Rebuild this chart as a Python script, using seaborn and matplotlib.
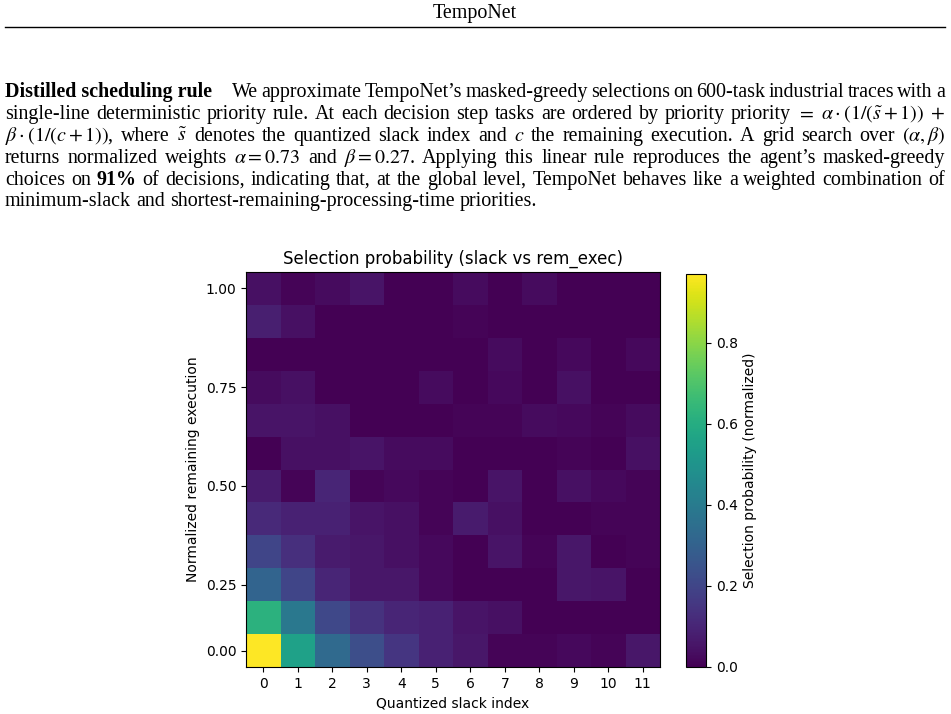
import pandas as pd
import seaborn as sns
import matplotlib.pyplot as plt
from matplotlib.lines import Line2D

plt.rcParams['mathtext.fontset'] = 'stix'

# heatmap data
slack_idx = list(range(12))
rem_tick_rows = [0, 2, 5, 8, 11]
rem_tick_labels = ["0.00", "0.25", "0.50", "0.75", "1.00"]

# one list per remaining-execution bin, bottom (0.00) to top (1.00)
rem_00 = [0.97, 0.55, 0.33, 0.23, 0.15, 0.09, 0.06, 0.01, 0.01, 0.02, 0.01, 0.06]
rem_01 = [0.62, 0.39, 0.21, 0.14, 0.10, 0.09, 0.05, 0.04, 0.00, 0.00, 0.00, 0.00]
rem_02 = [0.31, 0.20, 0.10, 0.06, 0.06, 0.02, 0.00, 0.00, 0.00, 0.06, 0.05, 0.00]
rem_03 = [0.20, 0.13, 0.07, 0.06, 0.04, 0.02, 0.00, 0.05, 0.01, 0.06, 0.00, 0.01]
rem_04 = [0.11, 0.09, 0.09, 0.05, 0.04, 0.01, 0.07, 0.04, 0.00, 0.00, 0.01, 0.01]
rem_05 = [0.07, 0.01, 0.10, 0.01, 0.02, 0.01, 0.00, 0.05, 0.00, 0.04, 0.02, 0.01]
rem_06 = [0.00, 0.04, 0.04, 0.05, 0.03, 0.03, 0.00, 0.00, 0.00, 0.01, 0.00, 0.04]
rem_07 = [0.05, 0.05, 0.04, 0.00, 0.00, 0.00, 0.01, 0.01, 0.03, 0.02, 0.01, 0.03]
rem_08 = [0.03, 0.04, 0.00, 0.00, 0.00, 0.03, 0.00, 0.02, 0.00, 0.04, 0.00, 0.00]
rem_09 = [0.00, 0.00, 0.00, 0.00, 0.00, 0.00, 0.00, 0.03, 0.00, 0.02, 0.00, 0.02]
rem_10 = [0.08, 0.04, 0.00, 0.00, 0.00, 0.00, 0.01, 0.00, 0.00, 0.00, 0.00, 0.00]
rem_11 = [0.04, 0.01, 0.03, 0.05, 0.00, 0.00, 0.03, 0.00, 0.03, 0.00, 0.00, 0.00]

rows = [rem_00, rem_01, rem_02, rem_03, rem_04, rem_05,
        rem_06, rem_07, rem_08, rem_09, rem_10, rem_11]
df = pd.DataFrame(rows[::-1], columns=slack_idx)  # top row first for heatmap

# page text
SERIF = 'Liberation Serif'
FS = 14.4
header = "TempoNet"
para = [
    [("Distilled scheduling rule", True), ("We", False), ("approximate", False), ("TempoNet\u2019s", False),
     ("masked-greedy", False), ("selections", False), ("on", False), ("600-task", False), ("industrial", False),
     ("traces", False), ("with", False), ("a", False)],
    [("single-line", False), ("deterministic", False), ("priority", False), ("rule.", False), ("At", False),
     ("each", False), ("decision", False), ("step", False), ("tasks", False), ("are", False), ("ordered", False),
     ("by", False), ("priority", False), ("priority", False), ("$=$", False),
     (r"$\alpha\cdot\left(1/(\tilde{s}+1)\right)$", False), ("$+$", False)],
    [(r"$\beta\cdot\left(1/(c+1)\right)$,", False), ("where", False), (r"$\tilde{s}$", False), ("denotes", False),
     ("the", False), ("quantized", False), ("slack", False), ("index", False), ("and", False), ("$c$", False),
     ("the", False), ("remaining", False), ("execution.", False), ("A", False), ("grid", False), ("search", False),
     ("over", False), (r"$(\alpha,\beta)$", False)],
    [("returns", False), ("normalized", False), ("weights", False), (r"$\alpha=0.73$", False), ("and", False),
     (r"$\beta=0.27$.", False), ("Applying", False), ("this", False), ("linear", False), ("rule", False),
     ("reproduces", False), ("the", False), ("agent\u2019s", False), ("masked-greedy", False)],
    [("choices", False), ("on", False), ("91%", True), ("of", False), ("decisions,", False), ("indicating", False),
     ("that,", False), ("at", False), ("the", False), ("global", False), ("level,", False), ("TempoNet", False),
     ("behaves", False), ("like", False), ("a", False), ("weighted", False), ("combination", False), ("of", False)],
    [("minimum-slack", False), ("and", False), ("shortest-remaining-processing-time", False),
     ("priorities.", False)],
]
baselines = [97, 119, 141, 163, 185, 206]

W, H = 951, 714
fig = plt.figure(figsize=(W / 100, H / 100), dpi=100)
renderer = fig.canvas.get_renderer()

fig.text(475 / W, 1 - 18 / H, header, family=SERIF, fontsize=FS, ha='center', va='baseline')
fig.add_artist(Line2D([5 / W, 945 / W], [1 - 27 / H, 1 - 27 / H], color='black', lw=1))


def put_line(tokens, ybase, justify=True, left=5, right=945, head_gap=17):
    texts, widths = [], []
    for tok, bold in tokens:
        t = fig.text(0, 1 - ybase / H, tok, family=SERIF, fontsize=FS,
                     weight='bold' if bold else 'normal', ha='left', va='baseline')
        texts.append(t)
        widths.append(t.get_window_extent(renderer).width)
    extra = head_gap if tokens[0][1] and len(tokens[0][0]) > 10 else 0
    if justify:
        gap = (right - left - sum(widths) - extra) / (len(tokens) - 1)
    else:
        gap = FS * 100 / 72 * 0.25
    x = left
    for i, (t, w) in enumerate(zip(texts, widths)):
        t.set_x(x / W)
        x += w + gap + (extra if i == 0 else 0)


for i, (line, yb) in enumerate(zip(para, baselines)):
    put_line(line, yb, justify=(i < len(para) - 1))

# heatmap
ax = fig.add_axes([246 / W, 1 - 667 / H, 414 / W, 395 / H])
cax = fig.add_axes([686 / W, 1 - 667 / H, 20 / W, 393 / H])
sns.heatmap(df, ax=ax, cmap='viridis', vmin=0, cbar_ax=cax,
            xticklabels=slack_idx, yticklabels=False,
            cbar_kws={'label': 'Selection probability (normalized)'})

ax.set_yticks([len(rows) - 1 - r + 0.5 for r in rem_tick_rows])
ax.set_yticklabels(rem_tick_labels, rotation=0)
ax.tick_params(axis='x', rotation=0)
for sp in ax.spines.values():
    sp.set_visible(True)
    sp.set_linewidth(0.8)
ax.collections[0].colorbar.outline.set_linewidth(0.8)

ax.set_title("Selection probability (slack vs rem_exec)", fontsize=12)
ax.set_xlabel("Quantized slack index", fontsize=10)
ax.set_ylabel("Normalized remaining execution", fontsize=10)

fig.savefig("out.png", dpi=100)
